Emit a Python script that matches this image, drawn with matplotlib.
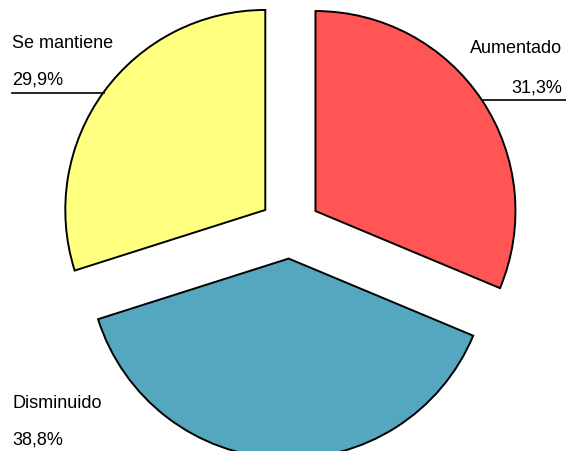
import numpy as np
import matplotlib.pyplot as plt

labels = ["Aumentado", "Disminuido", "Se mantiene"]
values = [31.3, 38.8, 29.9]
colors = ["#FF5555", "#55A6BF", "#FFFF80"]

W, H = 566, 452
cx, cy, R = 290, 229, 200  # pie centre and radius in pixels

plt.rcParams['font.family'] = ['Liberation Sans', 'DejaVu Sans']

fig = plt.figure(figsize=(W / 100, H / 100), dpi=100)
ax = fig.add_axes([0, 0, 1, 1])

wedges, _ = ax.pie(values, colors=colors, startangle=90, counterclock=False,
                   explode=[0.153] * 3, radius=1.0,
                   wedgeprops=dict(edgecolor="black", linewidth=1.4))

ax.set_aspect('auto')
ax.set_xlim(-cx / R, (W - cx) / R)
ax.set_ylim(-(H - cy) / R, cy / R)
ax.axis('off')


# pixel (from top-left) -> data
def px(x, y):
    return (x - cx) / R, (cy - y) / R


pct = [("%.1f%%" % v).replace(".", ",") for v in values]
fs = 13

# Aumentado, right side
ax.text(*px(562, 53), labels[0], ha='right', va='baseline', fontsize=fs)
ax.text(*px(562, 93), pct[0], ha='right', va='baseline', fontsize=fs)
x0, y0 = px(483, 101)
x1, _ = px(566, 101)
ax.plot([x0, x1], [y0, y0], color='black', lw=1.2)

# Disminuido, bottom left
ax.text(*px(12, 408), labels[1], ha='left', va='baseline', fontsize=fs)
ax.text(*px(12, 445), pct[1], ha='left', va='baseline', fontsize=fs)

# Se mantiene, top left
ax.text(*px(12, 48), labels[2], ha='left', va='baseline', fontsize=fs)
ax.text(*px(12, 85), pct[2], ha='left', va='baseline', fontsize=fs)
x0, y0 = px(12, 94)
x1, _ = px(104, 94)
ax.plot([x0, x1], [y0, y0], color='black', lw=1.2)

fig.savefig("out.png", dpi=100, facecolor='white')
